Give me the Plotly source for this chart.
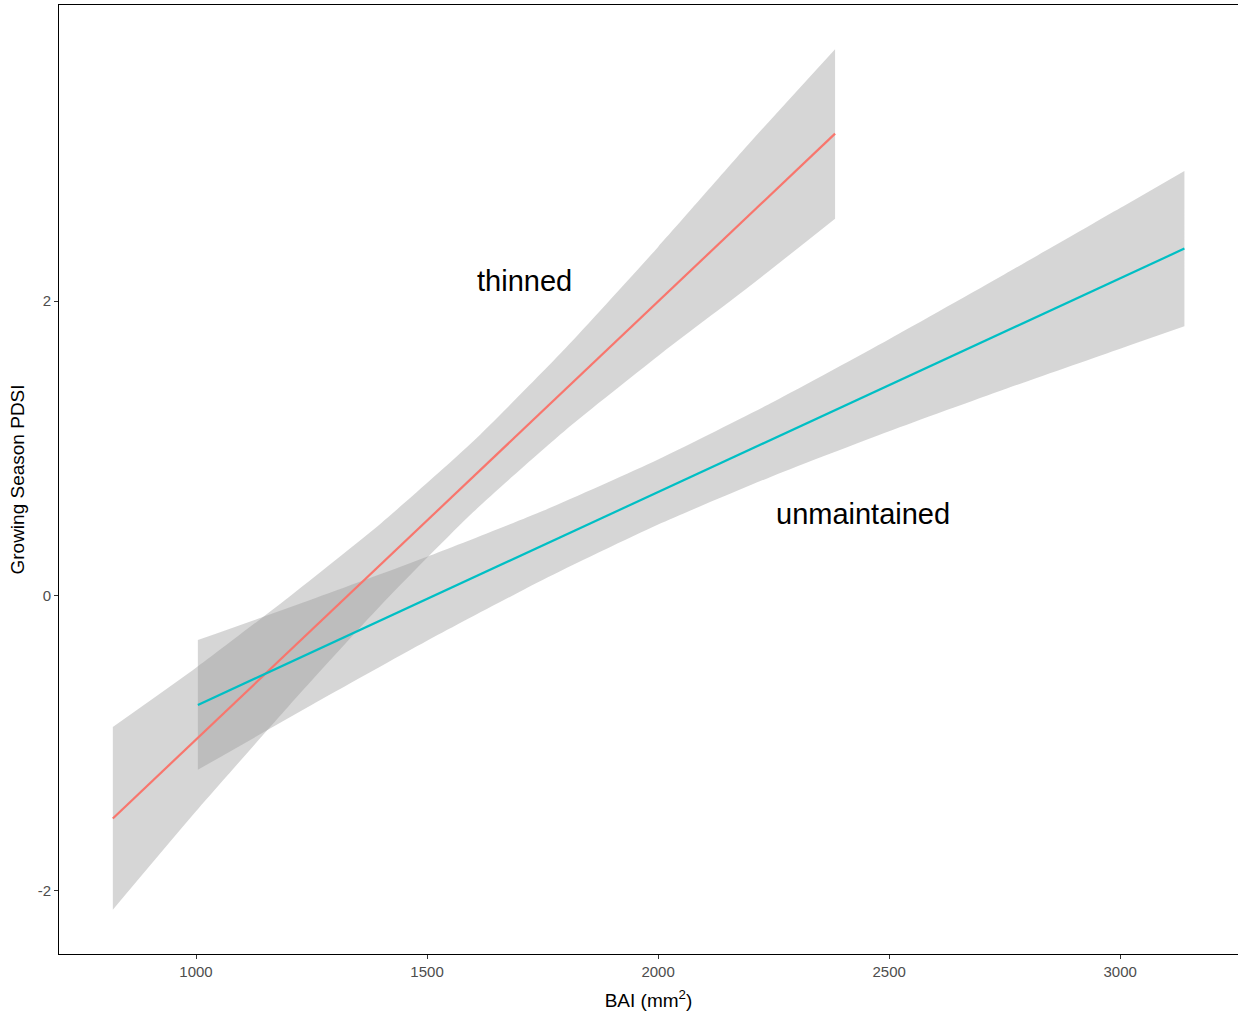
import plotly.graph_objects as go

# ---- data ----
thin_x = [820, 1000, 1200, 1400, 1600, 1800, 2000, 2200, 2383]
thin_fit = [-1.51, -0.975, -0.380, 0.214, 0.809, 1.404, 1.998, 2.593, 3.137]
thin_upper = [-0.89, -0.488, -0.010, 0.492, 1.049, 1.682, 2.368, 3.080, 3.71]
thin_lower = [-2.13, -1.462, -0.750, -0.064, 0.569, 1.126, 1.628, 2.106, 2.56]

unm_x = [1004, 1250, 1500, 1750, 2000, 2250, 2500, 2750, 3000, 3139]
unm_fit = [-0.740, -0.383, -0.020, 0.342, 0.705, 1.067, 1.430, 1.793, 2.155, 2.357]
unm_upper = [-0.30, -0.025, 0.265, 0.576, 0.926, 1.318, 1.742, 2.183, 2.632, 2.884]
unm_lower = [-1.18, -0.741, -0.305, 0.108, 0.484, 0.816, 1.118, 1.403, 1.678, 1.830]

x_ticks = [1000, 1500, 2000, 2500, 3000]
y_ticks = [-2, 0, 2]

labels = ["thinned", "unmaintained"]
label_x = [1710, 2444]
label_y = [2.14, 0.557]

BAND = "rgba(153,153,153,0.4)"
COLORS = ["#F8766D", "#00BFC4"]

fig = go.Figure()

for xs, up, lo in [(thin_x, thin_upper, thin_lower), (unm_x, unm_upper, unm_lower)]:
    fig.add_trace(go.Scatter(
        x=xs, y=lo, mode="lines", line=dict(width=0, shape="spline", smoothing=0.6),
        hoverinfo="skip", showlegend=False))
    fig.add_trace(go.Scatter(
        x=xs, y=up, mode="lines", fill="tonexty", fillcolor=BAND,
        line=dict(width=0, shape="spline", smoothing=0.6),
        hoverinfo="skip", showlegend=False))

for xs, ys, c in [(thin_x, thin_fit, COLORS[0]), (unm_x, unm_fit, COLORS[1])]:
    fig.add_trace(go.Scatter(x=xs, y=ys, mode="lines",
                             line=dict(color=c, width=2.2), showlegend=False))

FONT = "Liberation Sans, Arial"
for t, lx, ly in zip(labels, label_x, label_y):
    fig.add_annotation(x=lx, y=ly, text=t, showarrow=False,
                       font=dict(family=FONT, size=29, color="black"))

fig.update_layout(
    width=1238, height=1014,
    margin=dict(l=59, r=0, t=5, b=60),
    plot_bgcolor="white", paper_bgcolor="white",
    font=dict(family=FONT),
    xaxis=dict(range=[703.5, 3255], tickvals=x_ticks, ticktext=[str(v) for v in x_ticks],
               showgrid=False, zeroline=False, showline=True, linecolor="black", linewidth=1,
               mirror=True, ticks="outside", ticklen=4, tickcolor="#333333",
               tickfont=dict(size=15, color="#4D4D4D", family=FONT),
               title=dict(text="BAI (mm<sup>2</sup>)", font=dict(size=19, color="black", family=FONT),
                          standoff=14)),
    yaxis=dict(range=[-2.43, 4.01], tickvals=y_ticks, ticktext=[str(v) for v in y_ticks],
               showgrid=False, zeroline=False, showline=True, linecolor="black", linewidth=1,
               ticks="outside", ticklen=4, tickcolor="#333333",
               tickfont=dict(size=15, color="#4D4D4D", family=FONT),
               title=dict(text="Growing Season PDSI", font=dict(size=19, color="black", family=FONT),
                          standoff=8)),
)

fig.write_html("out.html", config={"displayModeBar": False},
               post_script="document.body.style.margin='0';document.body.style.overflow='hidden';")
